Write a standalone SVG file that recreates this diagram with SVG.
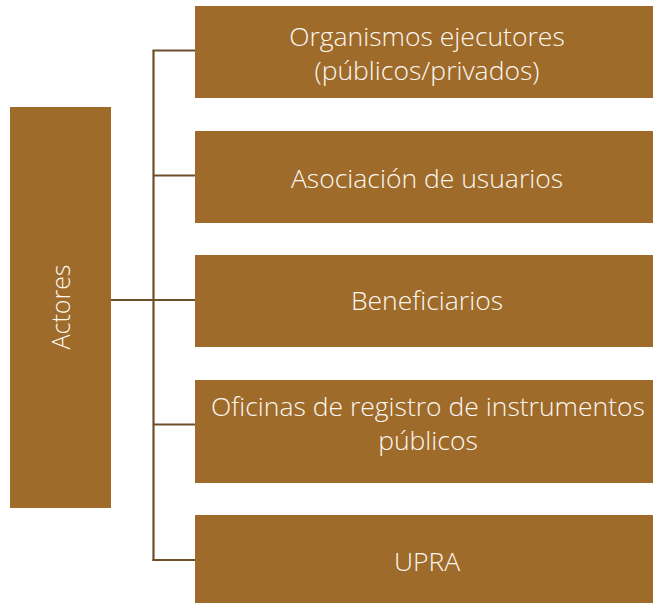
<svg xmlns="http://www.w3.org/2000/svg" width="653" height="603" viewBox="0 0 653 603">
<style>
.box{fill:#9E6B2B}
.t{font-family:"Open Sans","Liberation Sans",sans-serif;font-weight:300;font-size:26.5px;fill:#FBF7F0;text-anchor:middle}
.a{font-size:25px}
.ln{stroke:#6E4F2C;stroke-width:2.2;fill:none}
</style>
<rect width="653" height="603" fill="#FFFFFF"/>
<g id="connectors">
<line class="ln" x1="153.5" y1="50.5" x2="153.5" y2="561"/>
<line class="ln" x1="152.5" y1="50.5" x2="195" y2="50.5"/>
<line class="ln" x1="153.5" y1="175.5" x2="195" y2="175.5"/>
<line class="ln" x1="111" y1="300" x2="195" y2="300"/>
<line class="ln" x1="153.5" y1="424.5" x2="195" y2="424.5"/>
<line class="ln" x1="152.5" y1="560" x2="195" y2="560"/>
</g>
<g id="actores">
<rect class="box" x="10" y="107" width="101" height="401"/>
<text class="t a" transform="translate(70,307) rotate(-90)">Actores</text>
</g>
<g id="organismos">
<rect class="box" x="195" y="6" width="458" height="92"/>
<text class="t" x="427" y="46">Organismos ejecutores</text>
<text class="t" x="427" y="80">(públicos/privados)</text>
</g>
<g id="asociacion">
<rect class="box" x="195" y="131" width="458" height="92"/>
<text class="t" x="427" y="188">Asociación de usuarios</text>
</g>
<g id="beneficiarios">
<rect class="box" x="195" y="255" width="458" height="92"/>
<text class="t" x="427" y="310">Beneficiarios</text>
</g>
<g id="oficinas">
<rect class="box" x="195" y="380" width="458" height="103"/>
<text class="t" x="428" y="416">Oficinas de registro de instrumentos</text>
<text class="t" x="428" y="450">públicos</text>
</g>
<g id="upra">
<rect class="box" x="195" y="515" width="458" height="88"/>
<text class="t" x="427" y="571">UPRA</text>
</g>
</svg>
